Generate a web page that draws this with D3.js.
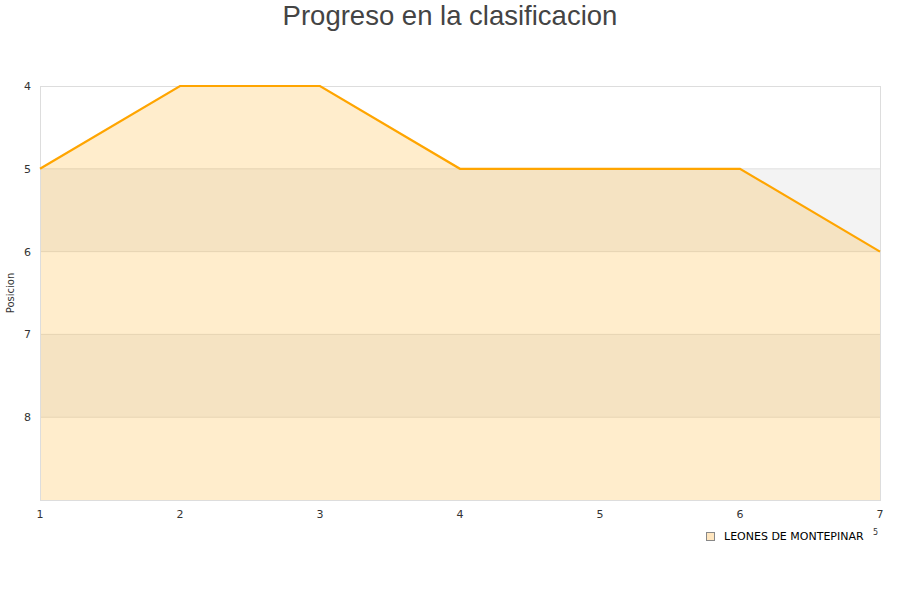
<!DOCTYPE html>
<html><head><meta charset="utf-8">
<script src="https://cdn.jsdelivr.net/npm/d3@7"></script>
<style>body{margin:0;background:#fff}svg{display:block}</style>
</head><body>
<svg id="c" width="900" height="600"></svg>
<script>
const jornadas = [1,2,3,4,5,6,7];
const posiciones = [5,4,4,5,5,5,6];
const yTicks = [4,5,6,7,8];
const serieNombre = "LEONES DE MONTEPINAR";
const titulo = "Progreso en la clasificacion";

const svg = d3.select("#c");
const m = {l:40, r:880, t:86, b:500};
const x = d3.scaleLinear().domain([1,7]).range([m.l, m.r]);
const y = d3.scaleLinear().domain([4,9]).range([m.t, m.b]);
const font = "'DejaVu Sans', Verdana, sans-serif";

// bands
const bands = [4,5,6,7,8];
svg.selectAll("rect.band").data(bands).join("rect")
  .attr("x", m.l).attr("width", m.r-m.l)
  .attr("y", d=>y(d)).attr("height", d=>y(d+1)-y(d))
  .attr("fill", (d,i)=> i%2===1 ? "#f3f3f3" : "#ffffff");
svg.selectAll("line.grid").data([5,6,7,8]).join("line")
  .attr("x1", m.l).attr("x2", m.r).attr("y1", d=>y(d)).attr("y2", d=>y(d))
  .attr("stroke", "#e0e0e0").attr("stroke-width",1);

const data = jornadas.map((j,i)=>({j, p:posiciones[i]}));
svg.append("path").datum(data)
  .attr("d", d3.area().x(d=>x(d.j)).y0(y(9)).y1(d=>y(d.p)))
  .attr("fill", "rgb(255,165,0)").attr("fill-opacity", 0.2);

// border
svg.append("rect").attr("x", m.l+0.5).attr("y", m.t+0.5)
  .attr("width", m.r-m.l).attr("height", m.b-m.t)
  .attr("fill","none").attr("stroke","#dddddd");

svg.append("path").datum(data)
  .attr("d", d3.line().x(d=>x(d.j)).y(d=>y(d.p)))
  .attr("fill","none").attr("stroke","#ffa500").attr("stroke-width",2.2);

// y ticks
svg.selectAll("text.yt").data(yTicks).join("text")
  .attr("x", 31).attr("y", d=>y(d)+4).attr("text-anchor","end")
  .attr("font-family", font).attr("font-size", 11).attr("fill","#333")
  .text(d=>d);
// x ticks
svg.selectAll("text.xt").data(jornadas).join("text")
  .attr("x", d=>x(d)).attr("y", 518).attr("text-anchor","middle")
  .attr("font-family", font).attr("font-size", 11).attr("fill","#333")
  .text(d=>d);

svg.append("text").attr("transform","translate(14,293) rotate(-90)")
  .attr("text-anchor","middle").attr("font-family", font).attr("font-size", 10).attr("fill","#333")
  .text("Posicion");

svg.append("text").attr("x", 450).attr("y", 25).attr("text-anchor","middle")
  .attr("font-family","'Liberation Sans', Arial, sans-serif").attr("font-size", 27.5).attr("fill","#444")
  .text(titulo);

// legend
svg.append("rect").attr("x", 706.5).attr("y", 532.5).attr("width", 8).attr("height", 8)
  .attr("fill","#ffe6bf").attr("stroke","#888");
svg.append("text").attr("x", 724).attr("y", 540).attr("font-family", font).attr("font-size", 11).attr("fill","#000")
  .text(serieNombre);
svg.append("text").attr("x", 873).attr("y", 535).attr("font-family", font).attr("font-size", 8).attr("fill","#333")
  .text("5");
</script>
</body></html>
